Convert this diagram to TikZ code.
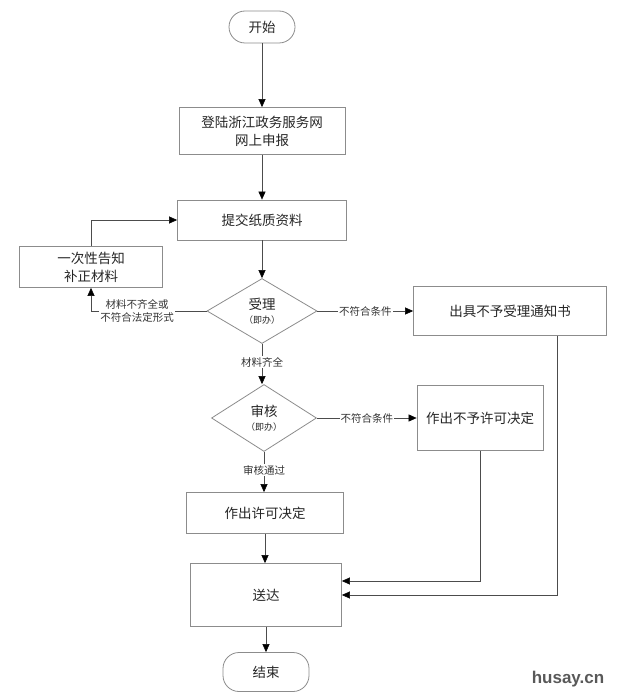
\documentclass[tikz,border=0pt]{standalone}
\usepackage{fontspec}
\newfontfamily\cjk{Noto Sans CJK SC}
\newfontfamily\wmfont{Liberation Sans}
\usetikzlibrary{shapes.geometric,arrows.meta,calc}
\tikzset{
  box/.style={draw=black!45, line width=0.8pt, fill=white, inner sep=0pt, align=center, font=\cjk\fontsize{13.5}{18}\selectfont, text=black!85},
  term/.style={box, rounded corners=16pt},
  dia/.style={draw=black!45, line width=0.8pt, fill=white, diamond, inner sep=0pt, align=center, font=\cjk\fontsize{13.5}{16}\selectfont, text=black!85},
  lbl/.style={fill=white, inner sep=1pt, align=center, font=\cjk\fontsize{10.5}{13}\selectfont, text=black!80},
  arr/.style={draw=black!70, line width=0.6pt, -{Triangle[length=8pt,width=7pt,color=black,fill=black]}},
  ln/.style={draw=black!70, line width=0.6pt}
}
\newcommand{\jiban}{\\[-2pt]{\fontsize{9}{11}\selectfont（即办）}}
\begin{document}
\begin{tikzpicture}[x=1pt,y=-1pt]
\useasboundingbox (0,0) rectangle (620,698);
\node[term, minimum width=66pt, minimum height=32pt] (st) at (262,27) {开始};
\node[box, minimum width=166pt, minimum height=47pt] (dl) at (262,131) {登陆浙江政务服务网\\网上申报};
\node[box, minimum width=169pt, minimum height=40pt] (tj) at (262,220) {提交纸质资料};
\node[box, minimum width=143pt, minimum height=41pt] (bz) at (91,267) {一次性告知\\补正材料};
\node[dia, minimum width=110pt, minimum height=65pt] (sl) at (262,311) {受理\jiban};
\node[box, minimum width=193pt, minimum height=49pt] (nsl) at (510,311) {出具不予受理通知书};
\node[dia, minimum width=105pt, minimum height=67pt] (sh) at (264,418) {审核\jiban};
\node[box, minimum width=126pt, minimum height=65pt] (byxk) at (480,418) {作出不予许可决定};
\node[box, minimum width=157pt, minimum height=41pt] (xk) at (265,513) {作出许可决定};
\node[box, minimum width=151pt, minimum height=63pt] (sd) at (266,595) {送达};
\node[term, minimum width=86pt, minimum height=39pt] (end) at (266,672) {结束};
\node[font=\wmfont\bfseries\fontsize{17}{17}\selectfont, text=black!65] (wm) at (568,679) {husay.cn};

\draw[arr] (st.south) -- (st.south |- dl.north);
\draw[arr] (dl.south) -- (dl.south |- tj.north);
\draw[arr] (tj.south) -- (tj.south |- sl.north);
\draw[arr] (sl.west) -| (bz.south) node[lbl, pos=0.3] {材料不齐全或\\不符合法定形式};
\draw[arr] (bz.north) |- (tj.west);
\draw[arr] (sl.east) -- (nsl.west) node[lbl, midway] {不符合条件};
\draw[arr] (sl.south) -- (sl.south |- sh.north) node[lbl, pos=0.45] {材料齐全};
\draw[arr] (sh.east) -- (sh.east -| byxk.west) node[lbl, midway] {不符合条件};
\draw[arr] (sh.south) -- (sh.south |- xk.north) node[lbl, pos=0.45] {审核通过};
\draw[arr] (xk.south) -- (xk.south |- sd.north);
\draw[arr] (sd.south) -- (sd.south |- end.north);
\draw[arr] (byxk.south) |- ($(sd.east)+(0,-14)$);
\draw[arr] ($(nsl.south)+(47,0)$) |- (sd.east);
\end{tikzpicture}
\end{document}
